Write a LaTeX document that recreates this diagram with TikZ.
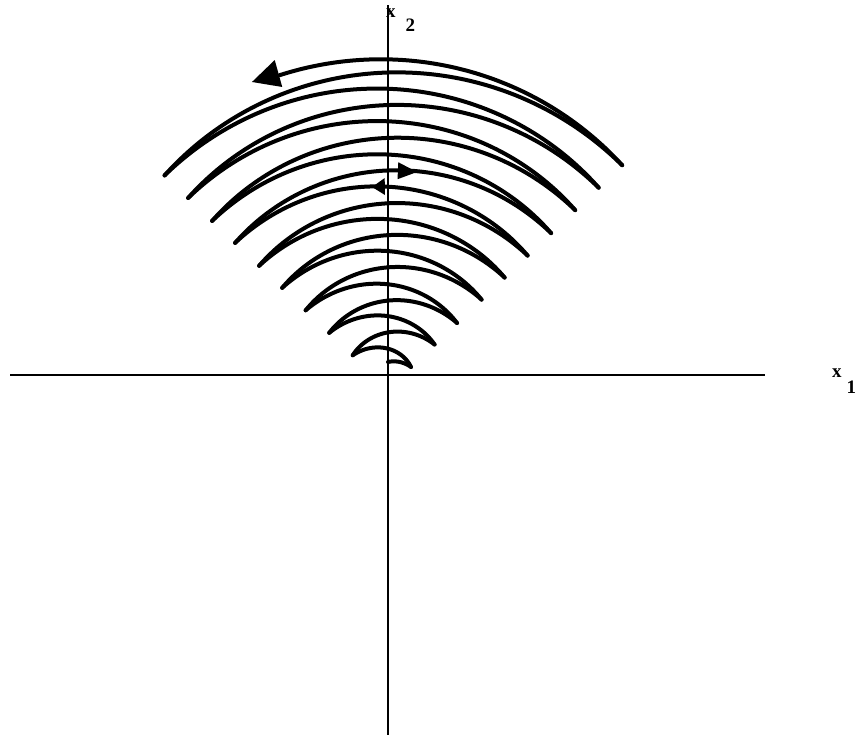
\documentclass[tikz,border=0pt]{standalone}
\usepackage{fontspec}
\newfontfamily\lblfam{Liberation Serif}
\newcommand\lblfont{\lblfam\bfseries\fontsize{19}{22}\selectfont}
\tikzset{
  arcline/.style={line width=4pt,line cap=round,line join=round},
  axisline/.style={line width=2.6pt},
  lbl/.style={inner sep=0pt,anchor=base west}
}
% spiral piece about centre (388,349): from angle #1, radius #2 to angle #3, radius #4
\newcommand\sparc[4]{%
\draw[arcline] plot[domain=#1:#3,samples=90,variable=\t]
 ({388+(#2+(#4-#2)*(\t-#1)/(#3-#1))*cos(\t)},{349+(#2+(#4-#2)*(\t-#1)/(#3-#1))*sin(\t)});}
\begin{document}
\begin{tikzpicture}[x=1pt,y=1pt]
\useasboundingbox (0,0) rectangle (859,738);
% axes
\coordinate (xl) at (10,363);
\coordinate (xr) at (765,363);
\coordinate (yb) at (388,3);
\coordinate (yt) at (388,733);
\draw[axisline] (xl) -- (xr);
\draw[axisline] (yb) -- (yt);
\node[lbl] (lx2) at (386,720) {\lblfont x\kern10pt\raisebox{-14pt}{2}};
\node[lbl] (lx1) at (832,360) {\lblfont x\kern5pt\raisebox{-16pt}{1}};
% trajectory
\sparc{43.7}{323.9}{109.1}{332}
\sparc{43.7}{323.9}{136.3}{309.1}
\sparc{43.7}{291.4}{136.3}{309.1}
\sparc{43.7}{291.4}{136.3}{276.5}
\sparc{43.7}{258.9}{136.3}{276.5}
\sparc{43.7}{258.9}{136.3}{243.3}
\sparc{43.7}{225.6}{136.3}{243.3}
\sparc{43.7}{225.6}{136.3}{211.5}
\sparc{43.7}{193.1}{136.3}{211.5}
\sparc{43.7}{193.1}{136.3}{178.3}
\sparc{43.7}{161.3}{136.3}{178.3}
\sparc{43.7}{161.3}{136.3}{146.4}
\sparc{43.7}{129.4}{136.3}{146.4}
\sparc{43.7}{129.4}{136.3}{113.9}
\sparc{43.7}{95.5}{136.3}{113.9}
\sparc{43.7}{95.5}{136.3}{81.3}
\sparc{43.7}{64.4}{136.3}{81.3}
\sparc{43.7}{64.4}{136.3}{48.8}
\sparc{43.7}{31.8}{136.3}{48.8}
\sparc{43.7}{31.8}{90}{27}
% arrowheads
\fill[shift={(388,349)}] (113.9:335.8) -- (109.0:347.9) -- (109.3:320) -- cycle;
\fill[shift={(388,349)}] (82.4:218.9) -- (87.4:210) -- (87.4:227) -- cycle;
\fill[shift={(388,349)}] (94.5:202.6) -- (90.9:194) -- (90.9:211) -- cycle;
\end{tikzpicture}
\end{document}
